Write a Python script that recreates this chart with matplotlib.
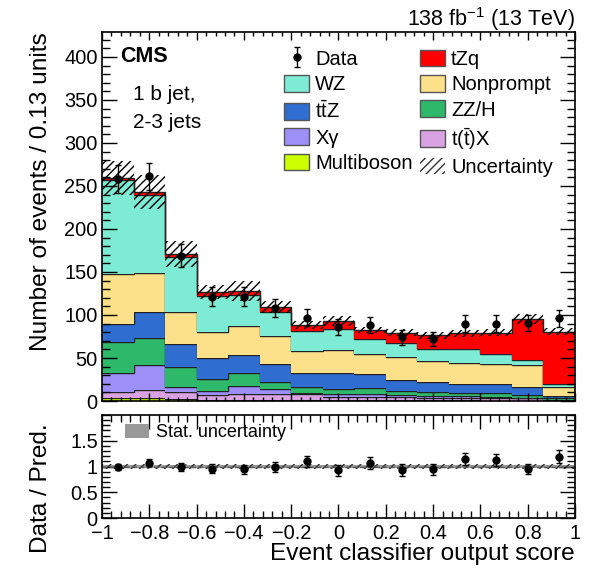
import numpy as np
import matplotlib
matplotlib.use('Agg')
import matplotlib.pyplot as plt
from matplotlib.patches import Patch
from matplotlib.ticker import MultipleLocator, FuncFormatter

##############################
#          数据
##############################
binEdges = np.linspace(-1, 1, 16)

# 各本底 (从下到上堆叠)
multiboson = [3, 3, 2.5, 1, 1, 1, 0.8, 0.8, 0.7, 0.7, 0.6, 0.6, 0.5, 0.5, 0.3]
ttX = [7, 10, 8.5, 6, 7, 7, 7, 4.2, 3.8, 3.8, 3.4, 3.4, 3, 2.5, 0.7]
xGamma = [22, 29, 5, 5, 10, 5.6, 1.9, 3, 3.3, 2.5, 2, 1.5, 1.5, 1, 0.5]
zzH = [37, 31, 23, 14, 14, 8.9, 6.8, 6, 7.7, 5, 5, 3.5, 4, 2.5, 1.5]
ttZ = [21, 31, 27, 24, 22, 21, 16.5, 18, 15.5, 12.4, 11.5, 11, 11, 10.2, 2.8]
nonprompt = [58, 45, 37, 30, 33, 32.1, 25, 27, 23.3, 27.2, 24.5, 24, 23.5, 25.3, 10.9]
wz = [109, 91, 64, 42.5, 36, 27.4, 23.4, 25, 18.2, 16.4, 13, 16, 11, 6, 3.1]
tzq = [2, 3, 4, 4.5, 5, 6.7, 7, 9, 10.1, 11.5, 16.4, 18.7, 25, 47, 60.8]

dataCounts = [258, 261, 169, 121, 121, 108, 97, 86, 88, 74, 72, 90, 90, 91, 96]
totalUnc = [20, 20, 15, 8, 12, 7, 5, 6, 4, 4, 4, 4, 4, 6, 4]
ratioSyst = [0.04, 0.04, 0.04, 0.04, 0.04, 0.04, 0.04, 0.04, 0.04, 0.04, 0.04, 0.04, 0.04, 0.04, 0.04]
ratioStat = [0.025, 0.025, 0.025, 0.025, 0.025, 0.025, 0.025, 0.025, 0.025, 0.025, 0.025, 0.025, 0.025, 0.025, 0.025]

labels = ['Multiboson', r'$\mathrm{t(\bar{t})X}$', 'Xγ', 'ZZ/H', r'$\mathrm{t\bar{t}Z}$', 'Nonprompt', 'WZ', 'tZq']
colors = ['#ccff00', '#d9a2e2', '#9c8ff8', '#2eb86a', '#2f6dd0', '#fde08a', '#7eecd4', '#ff0000']
stackList = [multiboson, ttX, xGamma, zzH, ttZ, nonprompt, wz, tzq]

##############################
#          样式
##############################
plt.rcParams['font.family'] = ['Liberation Sans', 'DejaVu Sans']
plt.rcParams['mathtext.fontset'] = 'custom'
plt.rcParams['mathtext.rm'] = 'Liberation Sans'
plt.rcParams['mathtext.it'] = 'Liberation Sans'
plt.rcParams['hatch.linewidth'] = 1.0
plt.rcParams['axes.linewidth'] = 1.2

tickFont = 14.4
edgeCol = '#222222'


def fmt(x, pos):
    s = f"{round(x, 6) + 0:g}"
    return s.replace('-', '\u2212')


fig = plt.figure(figsize=(5.98, 5.71), dpi=100)
ax = fig.add_axes([0.1706, 0.2977, 0.7909, 0.6463])
ax2 = fig.add_axes([0.1706, 0.0928, 0.7909, 0.1804], sharex=ax)

##############################
#          主图
##############################
bottom = np.zeros(len(binEdges) - 1)
for vals, col in zip(stackList, colors):
    vals = np.array(vals, dtype=float)
    top = bottom + vals
    ax.stairs(top, binEdges, baseline=bottom, fill=True, color=col, lw=0)
    ax.stairs(top, binEdges, baseline=None, color=edgeCol, lw=1.0)
    bottom = top
total = bottom

unc = np.array(totalUnc)
ax.stairs(total + unc, binEdges, baseline=total - unc, fill=True, facecolor='none',
          edgecolor='black', hatch='////', lw=0)

centers = 0.5 * (binEdges[1:] + binEdges[:-1])
dataArr = np.array(dataCounts, dtype=float)
dataErr = np.sqrt(dataArr)
eb = ax.errorbar(centers, dataArr, yerr=dataErr, fmt='o', color='black', ms=5,
                 elinewidth=1, capsize=2, capthick=1)

ax.set_xlim(-1, 1)
ax.set_ylim(0, 429)
ax.yaxis.set_major_locator(MultipleLocator(50))
ax.yaxis.set_minor_locator(MultipleLocator(10))
ax.xaxis.set_major_locator(MultipleLocator(0.2))
ax.xaxis.set_minor_locator(MultipleLocator(0.04))
ax.tick_params(axis='both', which='both', direction='in', top=True, right=True)
ax.tick_params(axis='y', which='major', length=11, width=1)
ax.tick_params(axis='y', which='minor', length=5.5, width=1)
ax.tick_params(axis='x', which='major', length=6, width=1)
ax.tick_params(axis='x', which='minor', length=3, width=1)
ax.tick_params(axis='y', labelsize=tickFont, pad=3)
ax.tick_params(axis='x', labelbottom=False)
ax.yaxis.set_major_formatter(FuncFormatter(fmt))

ax.set_ylabel('Number of events / 0.13 units', fontsize=17.6, loc='top')
ax.yaxis.set_label_coords(-0.105, 1.0)

ax.text(0.038, 0.962, 'CMS', transform=ax.transAxes, fontsize=15.5,
        fontweight='bold', va='top', ha='left')
ax.text(0.066, 0.857, '1 b jet,\n2-3 jets', transform=ax.transAxes, fontsize=15,
        va='top', ha='left', linespacing=1.6)
fig.text(0.9615, 0.955, r'138 fb$^{\mathregular{-1}}$ (13 TeV)', fontsize=15.5,
         ha='right', va='baseline')

# 图例
handles = [eb]
legLabels = ['Data']
for i in [6, 4, 2, 0, 7, 5, 3, 1]:
    handles.append(Patch(facecolor=colors[i], edgecolor='#555555', lw=1))
    legLabels.append(labels[i])
handles.append(Patch(facecolor='none', edgecolor='#333333', hatch='////', lw=0))
legLabels.append('Uncertainty')
# 第一列 Data, WZ, ttZ, Xγ, Multiboson；第二列 tZq, Nonprompt, ZZ/H, t(t)X, Uncertainty
ax.legend(handles, legLabels, ncol=2,
          loc='upper left', bbox_to_anchor=(0.385, 0.952), frameon=False,
          fontsize=14.5, handlelength=1.25, handleheight=0.9, handletextpad=0.3,
          columnspacing=0.35, labelspacing=0.3, borderpad=0, borderaxespad=0)

##############################
#          比值图
##############################
ratio = dataArr / total
ratioErr = dataErr / total
rs = np.array(ratioSyst)
rst = np.array(ratioStat)
ax2.stairs(1 + rst, binEdges, baseline=1 - rst, fill=True, color='#999999', lw=0)
ax2.stairs(1 + rs, binEdges, baseline=1 - rs, fill=True, facecolor='none',
           edgecolor='#333333', hatch='////', lw=0)
ax2.axhline(1, color='#555555', lw=1, ls='--')
ax2.errorbar(centers, ratio, yerr=ratioErr, fmt='o', color='black', ms=5,
             elinewidth=1, capsize=2, capthick=1)

ax2.set_ylim(0, 2)
ax2.yaxis.set_major_locator(MultipleLocator(0.5))
ax2.yaxis.set_minor_locator(MultipleLocator(0.1))
ax2.tick_params(axis='both', which='both', direction='in', top=True, right=True)
ax2.tick_params(axis='y', which='major', length=11, width=1)
ax2.tick_params(axis='y', which='minor', length=5.5, width=1)
ax2.tick_params(axis='x', which='major', length=10, width=1)
ax2.tick_params(axis='x', which='minor', length=5, width=1)
ax2.tick_params(axis='both', labelsize=tickFont, pad=3)
ax2.tick_params(axis='x', pad=4)
ax2.xaxis.set_major_formatter(FuncFormatter(fmt))
ax2.yaxis.set_major_formatter(FuncFormatter(fmt))
ax2.set_yticks([0, 0.5, 1, 1.5])

ax2.set_ylabel('Data / Pred.', fontsize=17.6)
ax2.yaxis.set_label_coords(-0.105, 0.29)
ax2.set_xlabel('Event classifier output score', fontsize=17.6, loc='right')
ax2.xaxis.set_label_coords(1.0, -0.24)

ax2.legend([Patch(facecolor='#999999', lw=0)], ['Stat. uncertainty'], loc='upper left',
           bbox_to_anchor=(0.049, 0.91), frameon=False, fontsize=13,
           handlelength=1.3, handleheight=0.8, handletextpad=0.4,
           borderpad=0, borderaxespad=0)

fig.savefig('out.png', dpi=100)
